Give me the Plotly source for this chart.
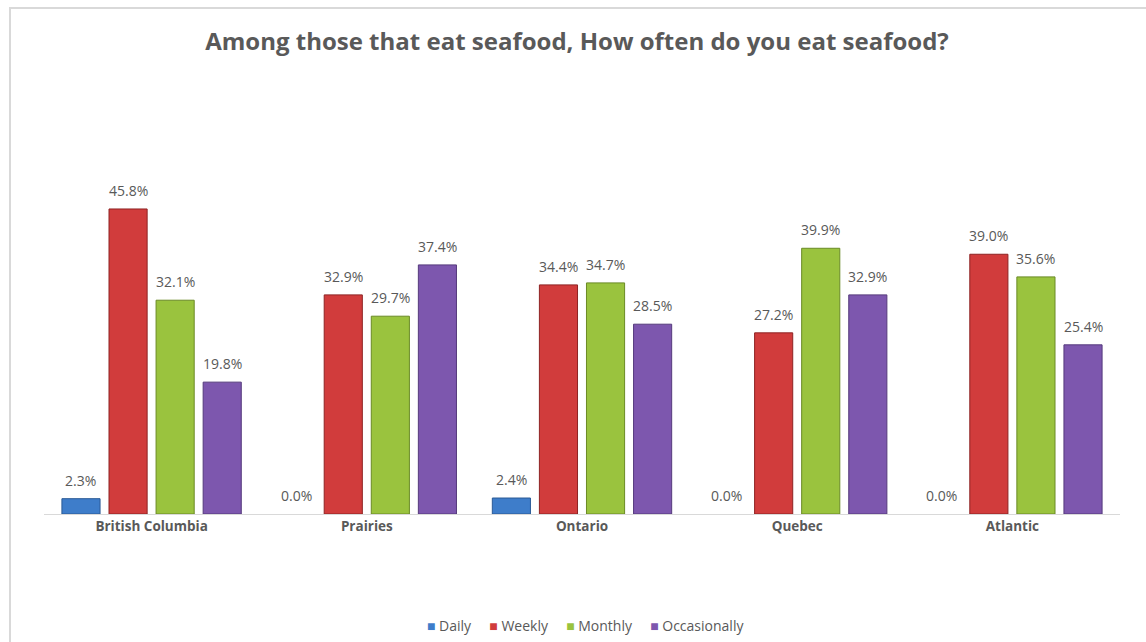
import plotly.graph_objects as go

categories = ["British Columbia", "Prairies", "Ontario", "Quebec", "Atlantic"]
series_names = ["Daily", "Weekly", "Monthly", "Occasionally"]
daily = [2.3, 0.0, 2.4, 0.0, 0.0]
weekly = [45.8, 32.9, 34.4, 27.2, 39.0]
monthly = [32.1, 29.7, 34.7, 39.9, 35.6]
occasionally = [19.8, 37.4, 28.5, 32.9, 25.4]

values = [daily, weekly, monthly, occasionally]
fills = ["#3E7DCA", "#D13C3C", "#9AC33E", "#7D57AE"]
edges = ["#2A5A96", "#8E2323", "#6A8A25", "#553A7C"]

FONT = "Open Sans"
GREY = "#595959"

W, H = 1146, 642
L, R, T, B = 44, 26, 181, 128
pw, ph = W - L - R, H - T - B
slot = pw / len(categories) * (1 - 0.125) / len(series_names)

fig = go.Figure()
annotations = []
for i, (name, vals, fc, ec) in enumerate(zip(series_names, values, fills, edges)):
    fig.add_trace(go.Bar(
        name=name, x=categories, y=vals,
        marker=dict(color=fc, line=dict(color=ec, width=[1 if v > 0 else 0 for v in vals])),
        showlegend=False,
    ))
    for c, v in zip(categories, vals):
        annotations.append(dict(
            x=c, y=v, xref="x", yref="y", text=f"{v:.1f}%", showarrow=False,
            xshift=(i - 1.5) * slot, yanchor="bottom", yshift=7,
            font=dict(family=FONT, size=14, color=GREY)))

legend_text = "&nbsp;&nbsp;&nbsp;&nbsp;&nbsp;".join(
    f"<span style='color:{fc}'>■</span>&nbsp;{n}" for n, fc in zip(series_names, fills))
annotations.append(dict(
    x=(585 - L) / pw, y=(H - B - 625) / ph, xref="paper", yref="paper",
    text=legend_text, showarrow=False, xanchor="center", yanchor="middle",
    font=dict(family=FONT, size=14, color=GREY)))

fig.update_layout(
    width=W, height=H,
    margin=dict(l=L, r=R, t=T, b=B, autoexpand=False),
    paper_bgcolor="white", plot_bgcolor="white",
    barmode="group", bargap=0.125, bargroupgap=0.19,
    title=dict(text="<b>Among those that eat seafood, How often do you eat seafood?</b>",
               x=(577 / W), xanchor="center", y=1 - 42 / H, yanchor="middle",
               font=dict(family=FONT, size=24, color=GREY)),
    showlegend=False,
    xaxis=dict(showline=True, linecolor="#D9D9D9", linewidth=1, ticks="",
               tickfont=dict(family=FONT, size=13.5, color=GREY), showgrid=False,
               tickprefix="<b>", ticksuffix="</b>"),
    yaxis=dict(range=[0, 50], visible=False, showgrid=False, zeroline=False),
    annotations=annotations,
    shapes=[dict(type="rect", xref="paper", yref="paper",
                 x0=(10 - L) / pw, x1=(W + 10 - L) / pw,
                 y0=(H - B - (H + 10)) / ph, y1=(H - B - 8) / ph,
                 line=dict(color="#D9D9D9", width=2), fillcolor="rgba(0,0,0,0)",
                 layer="below")],
)

fig.write_html("out.html", config={"displayModeBar": False},
               post_script="document.body.style.margin='0';document.body.style.overflow='hidden';")
